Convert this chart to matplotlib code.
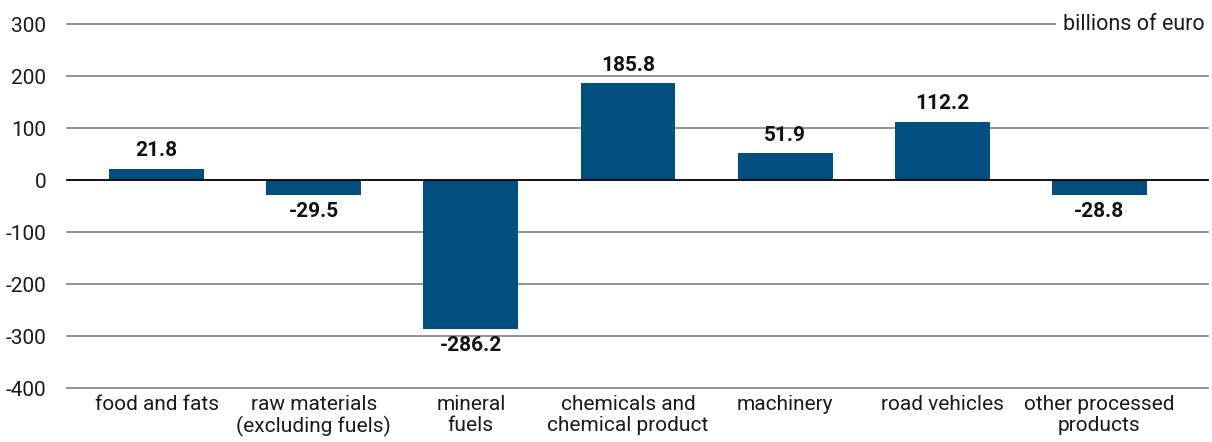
import matplotlib
matplotlib.use("Agg")
import matplotlib.pyplot as plt
import numpy as np

categories = ["food and fats", "raw materials\n(excluding fuels)", "mineral\nfuels",
              "chemicals and\nchemical product", "machinery", "road vehicles",
              "other processed\nproducts"]
values = [21.8, -29.5, -286.2, 185.8, 51.9, 112.2, -28.8]
yticks = [300, 200, 100, 0, -100, -200, -300, -400]
unit_label = "billions of euro"

plt.rcParams['font.family'] = ['Roboto', 'DejaVu Sans']

W, H = 1212, 442
ax_l, ax_r = 78, 1178
ax_t, ax_b = 24, 388
fig = plt.figure(figsize=(W / 100, H / 100), dpi=100)
ax = fig.add_axes([ax_l / W, 1 - ax_b / H, (ax_r - ax_l) / W, (ax_b - ax_t) / H])

x = np.arange(len(categories))
ax.bar(x, values, width=0.604, color="#004f7f", zorder=3)
ax.set_xlim(-0.5, len(categories) - 0.5)
ax.set_ylim(-400, 300)
ax.set_yticks(yticks)
ax.set_yticklabels([str(v) for v in yticks], fontsize=15, color="#1a1a1a")
ax.set_xticks(x)
ax.set_xticklabels(categories, fontsize=15, color="#1a1a1a", linespacing=1.12)
ax.tick_params(axis='both', length=0)
ax.tick_params(axis='y', pad=23)
ax.tick_params(axis='x', pad=5)
for s in ax.spines.values():
    s.set_visible(False)

gx0 = (67 - ax_l) / (ax_r - ax_l)
gx1 = (1208 - ax_l) / (ax_r - ax_l)
for v in yticks:
    if v == 0:
        ax.axhline(0, xmin=gx0, xmax=gx1, color="#000000", lw=1.3, zorder=4, clip_on=False)
    else:
        ax.axhline(v, xmin=gx0, xmax=gx1, color="#808080", lw=1.2, zorder=1, clip_on=False)

for xi, v in zip(x, values):
    if v >= 0:
        ax.annotate(f"{v:.1f}", (xi, v), xytext=(0, 6), textcoords='offset points',
                    ha='center', va='bottom', fontsize=15, fontweight='bold',
                    color="#111111", zorder=5)
    else:
        ax.annotate(f"{v:.1f}", (xi, v), xytext=(0, -5), textcoords='offset points',
                    ha='center', va='top', fontsize=15, fontweight='bold',
                    color="#111111", zorder=5)

ax.text(gx1 - 0.003, 300, unit_label, transform=ax.get_yaxis_transform(), ha='right', va='center',
        fontsize=15.5, color="#1a1a1a", zorder=6,
        bbox=dict(facecolor='white', edgecolor='none', pad=5))

fig.savefig("out.png", dpi=100)
